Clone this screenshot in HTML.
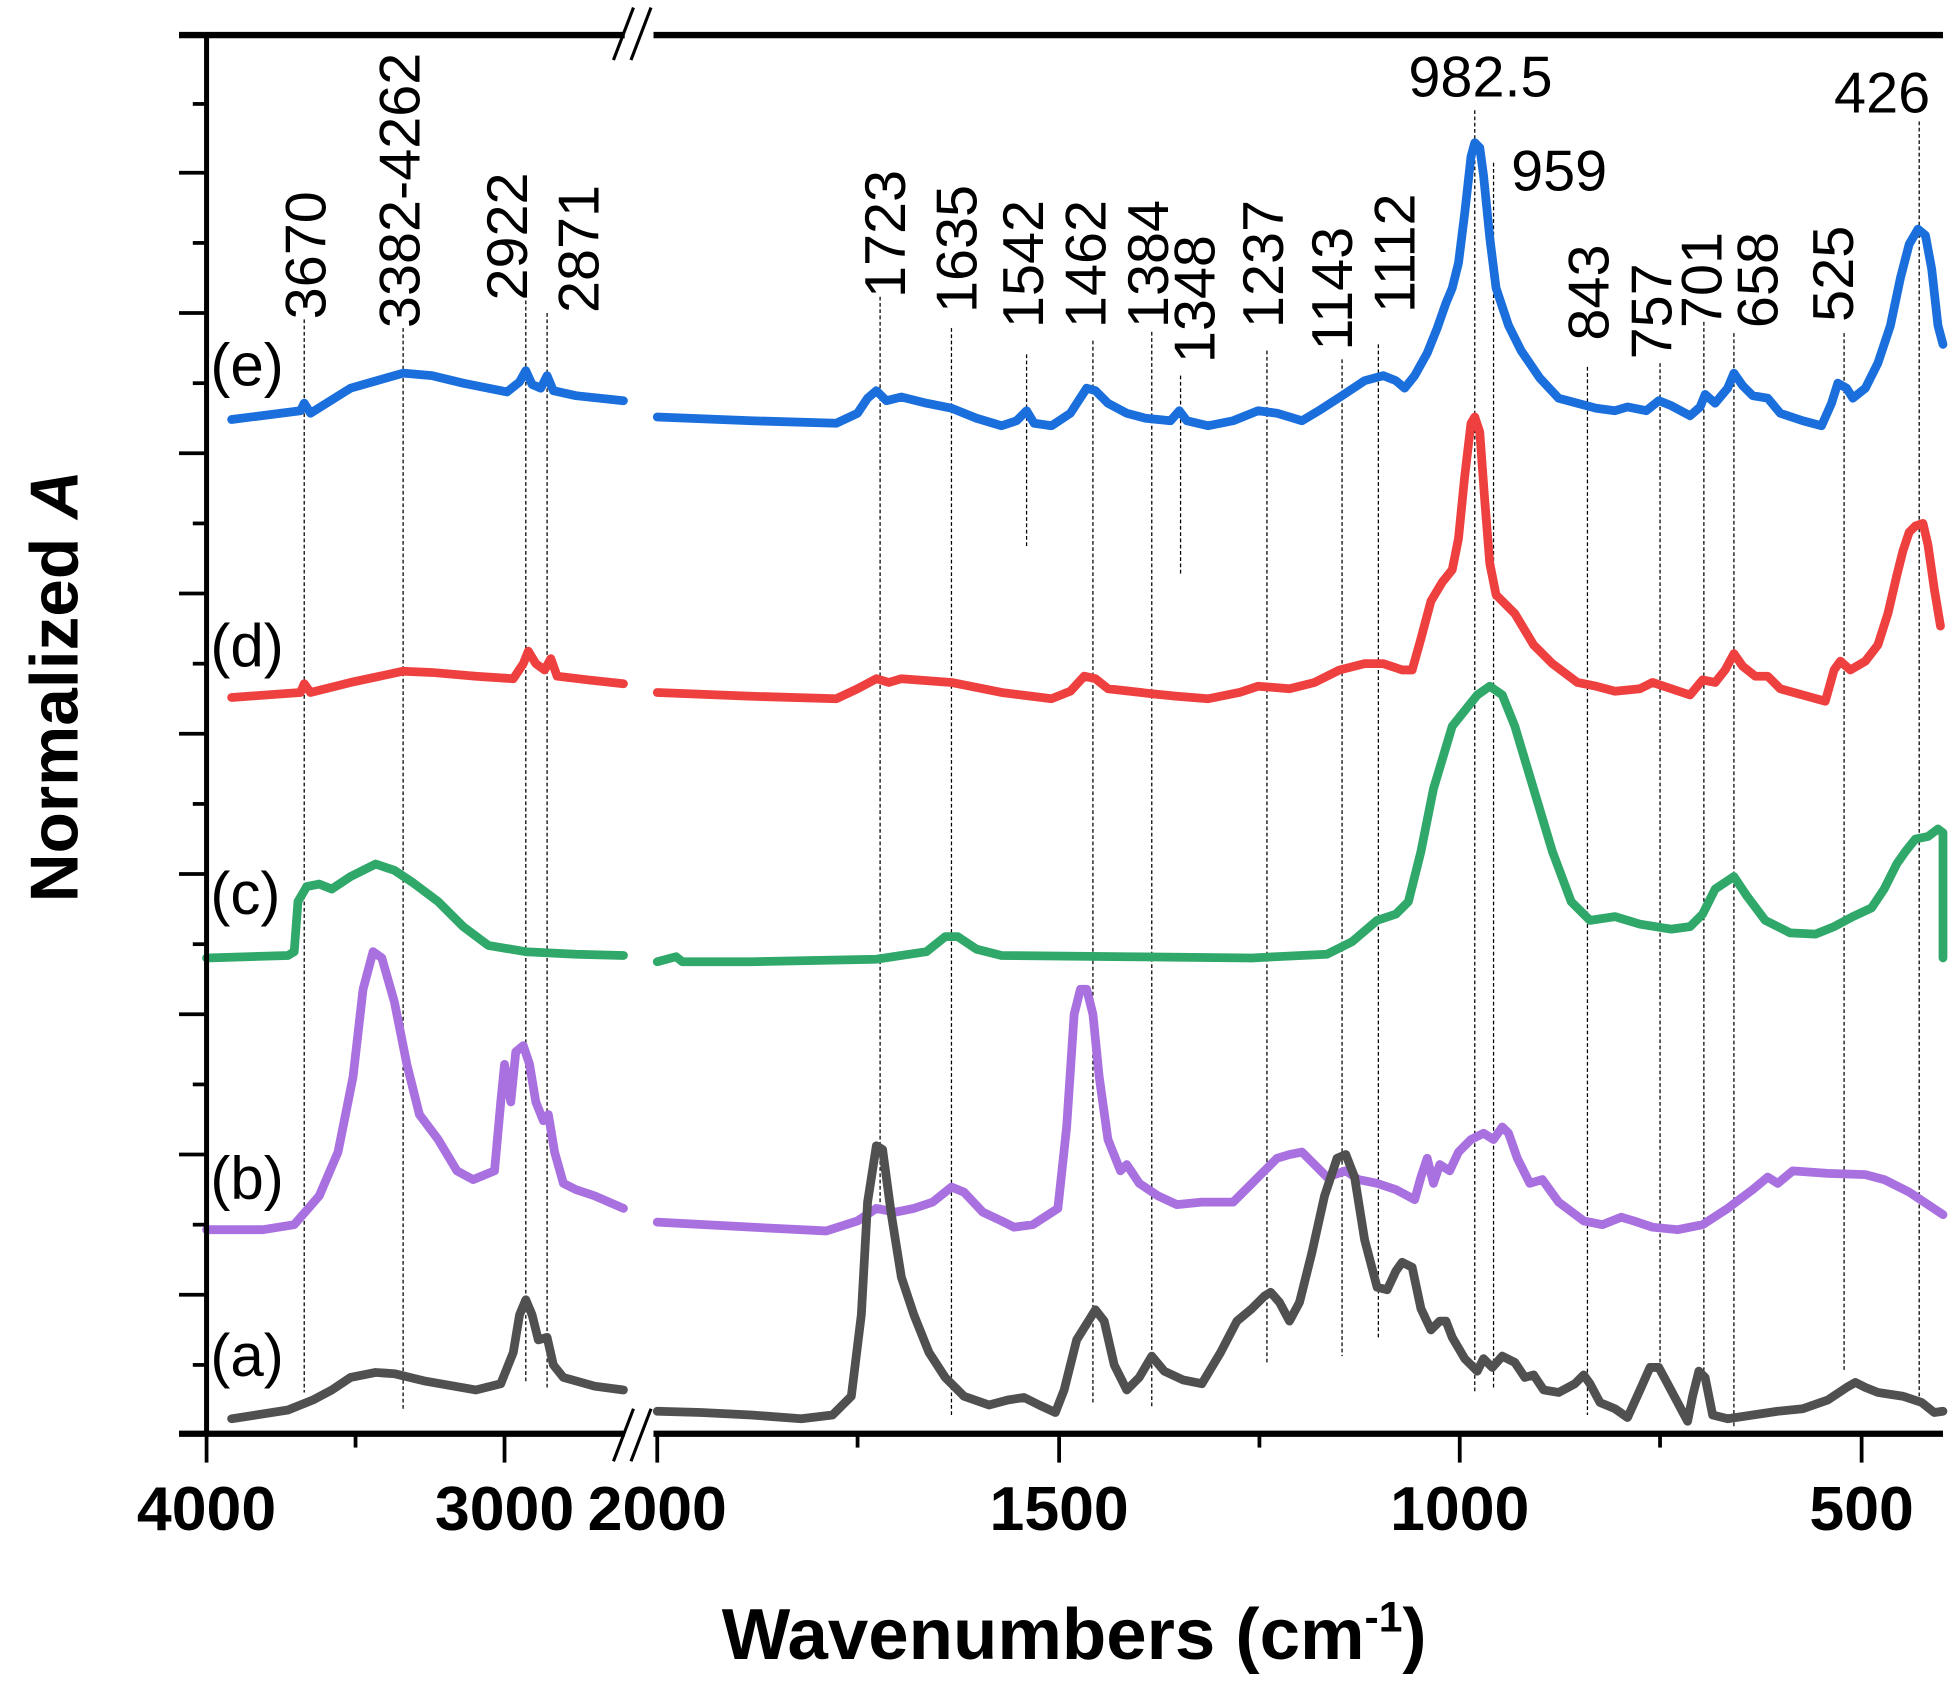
<!DOCTYPE html>
<html><head><meta charset="utf-8"><style>
html,body{margin:0;padding:0;background:#fff;}
svg{display:block;}
text{font-family:"Liberation Sans",Arial,sans-serif;}
.lab{font-size:46px;fill:#000;}
.tk{font-size:50px;font-weight:bold;fill:#000;}
.vl{stroke:#000;stroke-width:1;stroke-dasharray:3,2;fill:none;}
.c{fill:none;stroke-width:7;stroke-linejoin:round;stroke-linecap:round;}
</style></head><body>
<svg width="1953" height="1688" viewBox="0 0 1560 1348" preserveAspectRatio="none" xmlns="http://www.w3.org/2000/svg">
<rect width="1560" height="1348" fill="#fff"/>
<g class="vl">
<line x1="243" y1="255" x2="243" y2="1112"/>
<line x1="322" y1="262" x2="322" y2="1125"/>
<line x1="420" y1="240" x2="420" y2="1105"/>
<line x1="437" y1="250" x2="437" y2="1110"/>
<line x1="703" y1="237" x2="703" y2="965"/>
<line x1="760" y1="262" x2="760" y2="1130"/>
<line x1="820" y1="283" x2="820" y2="438"/>
<line x1="873" y1="272" x2="873" y2="1120"/>
<line x1="920" y1="265" x2="920" y2="1125"/>
<line x1="943" y1="300" x2="943" y2="460"/>
<line x1="1012" y1="280" x2="1012" y2="1090"/>
<line x1="1072" y1="287" x2="1072" y2="1083"/>
<line x1="1101" y1="275" x2="1101" y2="1070"/>
<line x1="1178" y1="88" x2="1178" y2="1113"/>
<line x1="1193" y1="130" x2="1193" y2="1110"/>
<line x1="1268" y1="293" x2="1268" y2="1130"/>
<line x1="1326" y1="290" x2="1326" y2="1095"/>
<line x1="1361" y1="257" x2="1361" y2="1095"/>
<line x1="1385" y1="266" x2="1385" y2="1140"/>
<line x1="1473" y1="266" x2="1473" y2="1095"/>
<line x1="1533" y1="97" x2="1533" y2="1120"/>
</g>
<g class="c" stroke="#1a6fdc">
<polyline points="185,335 240,328 243,322 248,330 280,310 322,298 345,300 370,306 405,313 415,305 420,296 425,307 432,310 437,300 442,312 460,316 498,320"/>
<polyline points="525,333 600,336 668,338 685,330 693,318 700,312 708,320 720,317 740,322 760,326 780,334 800,340 812,336 820,328 826,338 840,340 855,330 868,310 875,312 885,322 900,330 915,334 935,336 942,328 948,336 965,340 985,336 1005,328 1020,330 1040,336 1055,327 1072,316 1090,304 1105,300 1115,304 1122,310 1130,300 1140,282 1148,262 1155,242 1160,230 1165,210 1170,170 1175,125 1178,114 1182,118 1185,140 1190,190 1195,230 1205,260 1215,280 1230,302 1245,318 1260,322 1275,326 1290,328 1300,325 1315,328 1325,320 1335,324 1350,332 1358,325 1362,315 1370,322 1380,310 1385,298 1392,308 1400,316 1412,318 1422,330 1440,336 1455,340 1463,322 1468,306 1475,310 1480,318 1490,310 1500,290 1510,260 1518,222 1525,195 1532,183 1538,188 1543,215 1548,260 1552,275"/>
</g>
<g class="c" stroke="#ef4040">
<polyline points="185,557 240,553 243,546 248,553 280,545 322,536 345,537 380,540 410,542 418,530 422,520 428,530 435,535 440,526 445,540 470,543 498,546"/>
<polyline points="525,553 600,556 668,558 685,550 700,542 710,545 720,542 760,545 800,553 840,558 855,552 866,540 875,542 885,550 920,554 940,556 965,558 990,553 1005,548 1030,550 1050,545 1070,535 1090,530 1105,530 1120,535 1128,535 1135,510 1143,480 1152,465 1160,455 1165,430 1170,380 1175,338 1178,333 1182,345 1186,400 1190,450 1195,475 1210,490 1225,515 1240,530 1260,545 1275,548 1290,552 1310,550 1320,545 1335,550 1350,555 1360,543 1370,545 1378,535 1385,522 1392,532 1402,540 1412,540 1422,550 1440,555 1458,560 1465,535 1470,528 1478,535 1490,528 1500,515 1508,490 1515,460 1520,440 1525,425 1530,420 1536,418 1540,435 1545,470 1550,500"/>
</g>
<g class="c" stroke="#2fa86a">
<polyline points="165,765 230,763 235,760 238,720 245,708 255,706 265,710 280,700 300,690 315,695 330,705 350,720 370,740 390,755 420,760 460,762 498,763"/>
<polyline points="525,768 540,764 545,768 600,768 700,766 740,760 755,748 765,748 780,758 800,763 900,764 1000,765 1060,762 1080,752 1100,735 1115,730 1125,720 1135,680 1145,630 1160,580 1180,555 1190,548 1200,555 1210,580 1225,630 1240,680 1255,720 1270,735 1290,732 1310,738 1335,742 1350,740 1360,730 1370,710 1385,700 1395,715 1410,735 1430,745 1450,746 1465,740 1480,732 1495,725 1505,710 1515,690 1522,680 1530,670 1540,668 1548,662 1552,665 1552,765"/>
</g>
<g class="c" stroke="#a970e0">
<polyline points="165,982 210,982 235,978 255,955 270,920 282,860 290,790 298,760 305,765 315,800 325,850 335,890 350,910 365,935 378,942 395,935 400,880 403,850 408,880 412,840 418,835 423,850 428,880 434,895 438,890 443,920 450,945 460,950 475,955 498,965"/>
<polyline points="525,976 600,980 660,983 685,975 700,965 715,968 730,965 745,960 760,948 770,952 785,968 800,975 810,980 825,978 845,965 852,900 858,810 863,790 868,790 873,810 878,860 885,910 895,935 900,930 910,945 925,955 940,962 960,960 985,960 1000,945 1010,935 1020,925 1030,922 1040,920 1050,930 1060,940 1075,935 1085,942 1100,945 1115,950 1130,958 1135,940 1140,925 1145,945 1150,930 1158,935 1165,920 1175,910 1185,905 1193,910 1200,900 1205,905 1212,925 1222,945 1232,942 1245,960 1265,975 1280,978 1295,972 1305,975 1320,980 1340,982 1360,978 1380,965 1400,950 1412,940 1420,945 1432,935 1460,937 1490,938 1505,942 1525,952 1540,962 1552,970"/>
</g>
<g class="c" stroke="#505050">
<polyline points="185,1133 230,1126 250,1118 265,1110 280,1100 300,1096 315,1097 340,1103 380,1110 400,1105 410,1080 415,1050 420,1038 425,1050 430,1070 437,1068 442,1090 450,1100 475,1107 498,1110"/>
<polyline points="525,1127 560,1128 600,1130 640,1133 665,1130 680,1115 688,1050 693,960 700,915 705,918 712,970 720,1020 730,1050 742,1080 755,1100 770,1115 790,1122 805,1118 818,1116 830,1122 843,1128 850,1110 860,1070 875,1046 882,1055 890,1090 900,1110 910,1100 920,1083 930,1095 945,1102 960,1105 975,1080 988,1055 1000,1045 1010,1035 1015,1032 1022,1040 1030,1055 1038,1040 1048,1000 1058,955 1068,925 1075,922 1082,940 1090,990 1100,1028 1108,1030 1115,1015 1120,1008 1128,1012 1135,1045 1143,1062 1150,1055 1155,1055 1160,1068 1170,1085 1180,1095 1185,1085 1192,1092 1200,1083 1210,1088 1218,1100 1225,1098 1233,1110 1245,1112 1258,1105 1265,1098 1270,1105 1278,1120 1290,1125 1300,1132 1310,1110 1318,1092 1325,1092 1332,1105 1340,1120 1348,1135 1352,1115 1357,1095 1362,1100 1368,1130 1380,1133 1400,1130 1420,1127 1440,1125 1460,1118 1475,1108 1482,1104 1490,1108 1500,1112 1520,1115 1535,1120 1545,1128 1552,1127"/>
</g>
<g stroke="#000" fill="none">
<line x1="165" y1="28" x2="165" y2="1147" stroke-width="4"/>
<line x1="143" y1="28" x2="499" y2="28" stroke-width="5"/>
<line x1="522" y1="28" x2="1552" y2="28" stroke-width="5"/>
<line x1="143" y1="1145" x2="499" y2="1145" stroke-width="5"/>
<line x1="522" y1="1145" x2="1552" y2="1145" stroke-width="5"/>
<g stroke-width="2.5">
<line x1="490" y1="48" x2="506" y2="6"/><line x1="504" y1="48" x2="520" y2="6"/>
<line x1="490" y1="1167" x2="506" y2="1125"/><line x1="504" y1="1167" x2="520" y2="1125"/>
</g>
<g stroke-width="3">
<line x1="143" y1="138" x2="165" y2="138"/><line x1="143" y1="250" x2="165" y2="250"/>
<line x1="143" y1="362" x2="165" y2="362"/><line x1="143" y1="474" x2="165" y2="474"/>
<line x1="143" y1="586" x2="165" y2="586"/><line x1="143" y1="698" x2="165" y2="698"/>
<line x1="143" y1="810" x2="165" y2="810"/><line x1="143" y1="922" x2="165" y2="922"/>
<line x1="143" y1="1034" x2="165" y2="1034"/>
<line x1="154" y1="83" x2="165" y2="83"/><line x1="154" y1="194" x2="165" y2="194"/>
<line x1="154" y1="306" x2="165" y2="306"/><line x1="154" y1="418" x2="165" y2="418"/>
<line x1="154" y1="530" x2="165" y2="530"/><line x1="154" y1="642" x2="165" y2="642"/>
<line x1="154" y1="754" x2="165" y2="754"/><line x1="154" y1="866" x2="165" y2="866"/>
<line x1="154" y1="978" x2="165" y2="978"/><line x1="154" y1="1090" x2="165" y2="1090"/>
<line x1="165" y1="1145" x2="165" y2="1168"/><line x1="403" y1="1145" x2="403" y2="1168"/>
<line x1="525" y1="1145" x2="525" y2="1168"/><line x1="846" y1="1145" x2="846" y2="1168"/>
<line x1="1166" y1="1145" x2="1166" y2="1168"/><line x1="1487" y1="1145" x2="1487" y2="1168"/>
<line x1="284" y1="1145" x2="284" y2="1156"/><line x1="685" y1="1145" x2="685" y2="1156"/>
<line x1="1006" y1="1145" x2="1006" y2="1156"/><line x1="1326" y1="1145" x2="1326" y2="1156"/>
</g>
</g>
<g class="tk" text-anchor="middle">
<text x="165" y="1222">4000</text>
<text x="403" y="1222">3000</text>
<text x="525" y="1222">2000</text>
<text x="846" y="1222">1500</text>
<text x="1166" y="1222">1000</text>
<text x="1487" y="1222">500</text>
</g>
<text x="858" y="1325" text-anchor="middle" style="font-size:58px;font-weight:bold">Wavenumbers (cm<tspan dy="-22" style="font-size:34px">-1</tspan><tspan dy="22">)</tspan></text>
<text transform="translate(62,548) rotate(-90)" text-anchor="middle" style="font-size:54px;font-weight:bold">Normalized <tspan font-style="italic">A</tspan></text>
<g style="font-size:48px">
<text x="168" y="308">(e)</text>
<text x="168" y="532">(d)</text>
<text x="168" y="730">(c)</text>
<text x="168" y="957">(b)</text>
<text x="168" y="1099">(a)</text>
</g>
<g class="lab">
<text x="1125" y="77">982.5</text>
<text x="1207" y="152">959</text>
<text x="1465" y="90">426</text>
</g>
<g class="lab" text-anchor="start">
<text transform="translate(260,255) rotate(-90)">3670</text>
<text transform="translate(335,262) rotate(-90)">3382-4262</text>
<text transform="translate(421,240) rotate(-90)">2922</text>
<text transform="translate(478,250) rotate(-90)">2871</text>
<text transform="translate(723,238) rotate(-90)">1723</text>
<text transform="translate(780,250) rotate(-90)">1635</text>
<text transform="translate(833,262) rotate(-90)">1542</text>
<text transform="translate(883,262) rotate(-90)">1462</text>
<text transform="translate(933,262) rotate(-90)">1384</text>
<text transform="translate(970,290) rotate(-90)">1348</text>
<text transform="translate(1025,262) rotate(-90)">1237</text>
<text transform="translate(1080,280) rotate(-90)">1143</text>
<text transform="translate(1130,250) rotate(-90)">1112</text>
<text transform="translate(1285,272) rotate(-90)">843</text>
<text transform="translate(1335,287) rotate(-90)">757</text>
<text transform="translate(1375,262) rotate(-90)">701</text>
<text transform="translate(1420,262) rotate(-90)">658</text>
<text transform="translate(1480,257) rotate(-90)">525</text>
</g>
</svg>
</body></html>
